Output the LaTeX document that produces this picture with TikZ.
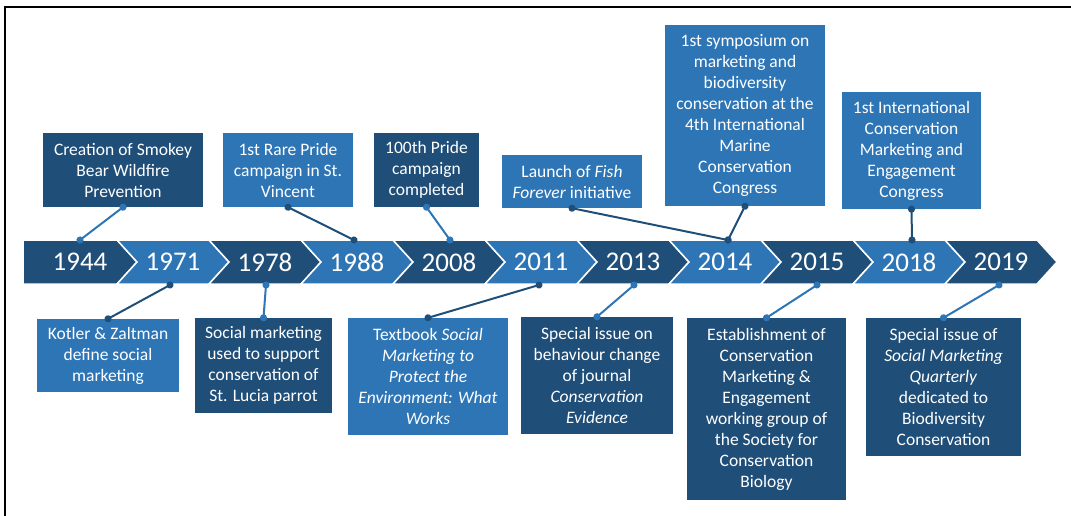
\documentclass[tikz,border=0pt]{standalone}
\usepackage{fontspec}
\setmainfont{Carlito}
\usepackage{tikz}
\usetikzlibrary{arrows.meta}
\usepackage{xcolor}
\definecolor{darkblue}{HTML}{1F4E79}
\definecolor{lightblue}{HTML}{2E75B6}

\begin{document}
\begin{tikzpicture}[
    x=1pt, y=-1pt,
    event/.style = {text=white, align=center, inner sep=2pt,
      font=\fontsize{17.5}{21}\selectfont},
    darkevent/.style  = {event, fill=darkblue},
    lightevent/.style = {event, fill=lightblue},
    year/.style = {text=white, font=\fontsize{27}{30}\selectfont},
    link/.style = {line width=2pt, shorten <=-3.5pt, shorten >=-3.5pt,
      {Circle[length=7pt]}-{Circle[length=7pt]}},
    darklink/.style  = {link, draw=darkblue},
    lightlink/.style = {link, draw=lightblue}
  ]
  \useasboundingbox (0,0) rectangle (1071,516);
  \draw[line width=2.2pt] (5,516) -- (5,7) -- (1071,7);

  % timeline band
  \fill[darkblue, draw=white, line width=1.5pt]
    (23,240) -- (117,240) -- (137,262) -- (117,284) -- (23,284) -- cycle;
  \node[year] (y1944) at (80,262) {1944};
  \foreach \yr [count=\i] in {1971,1978,1988,2008,2011,2013,2014,2015,2018,2019} {
    \pgfmathsetmacro\left{25+92*\i}
    \pgfmathsetmacro\right{25+92*(\i+1)}
    \pgfmathsetmacro\mid{\left+56}
    \ifodd\i \def\segcol{lightblue}\else \def\segcol{darkblue}\fi
    \fill[\segcol, draw=white, line width=1.5pt]
      (\left,240) -- (\right,240) -- (\right+20,262) -- (\right,284)
      -- (\left,284) -- (\left+20,262) -- cycle;
    \node[year] (y\yr) at (\mid,262) {\yr};
  }

  % points on the band
  \coordinate (t1944) at (80,240);
  \coordinate (t1988) at (354,240);
  \coordinate (t2008) at (450,240);
  \coordinate (t2014) at (728,240);
  \coordinate (t2018) at (912,240);
  \coordinate (b1971) at (170,285);
  \coordinate (b1978) at (266,285);
  \coordinate (b2011) at (539,285);
  \coordinate (b2013) at (634,285);
  \coordinate (b2015) at (817,285);
  \coordinate (b2019) at (999,285);

  % events above
  \node[darkevent, minimum width=160pt, minimum height=74pt] (smokey) at (123,170)
    {Creation of Smokey\\ Bear Wildfire\\ Prevention};
  \node[lightevent, minimum width=130pt, minimum height=74pt] (rarepride) at (288,170)
    {1st Rare Pride\\ campaign in St.\\ Vincent};
  \node[darkevent, minimum width=105pt, minimum height=74pt] (hundred) at (426.5,170)
    {100th Pride\\ campaign\\ completed};
  \node[lightevent, minimum width=140pt, minimum height=53pt] (fish) at (572,181.5)
    {Launch of \textit{Fish}\\ \textit{Forever} initiative};
  \node[lightevent, minimum width=160pt, minimum height=181pt] (symposium) at (745,115.5)
    {1st symposium on\\ marketing and\\ biodiversity\\ conservation at the\\
     4th International\\ Marine\\ Conservation\\ Congress};
  \node[lightevent, minimum width=139pt, minimum height=117pt] (congress) at (911.5,150.5)
    {1st International\\ Conservation\\ Marketing and\\ Engagement\\ Congress};

  % events below
  \node[lightevent, minimum width=142pt, minimum height=73pt] (kotler) at (108,355.5)
    {Kotler \& Zaltman\\ define social\\ marketing};
  \node[darkevent, minimum width=137pt, minimum height=95pt] (parrot) at (263.5,365.5)
    {Social marketing\\ used to support\\ conservation of\\ St. Lucia parrot};
  \node[lightevent, minimum width=160pt, minimum height=117pt] (textbook) at (428,376.5)
    {Textbook \textit{Social}\\ \textit{Marketing to}\\ \textit{Protect the}\\
     \textit{Environment: What}\\ \textit{Works}};
  \node[darkevent, minimum width=152pt, minimum height=117pt] (journal) at (597,375.5)
    {Special issue on\\ behaviour change\\ of journal\\ \textit{Conservation}\\
     \textit{Evidence}};
  \node[darkevent, minimum width=159pt, minimum height=182pt] (workgroup) at (766.5,409)
    {Establishment of\\ Conservation\\ Marketing \&\\ Engagement\\
     working group of\\ the Society for\\ Conservation\\ Biology};
  \node[darkevent, minimum width=155pt, minimum height=138pt] (smq) at (943.5,387)
    {Special issue of\\ \textit{Social Marketing}\\ \textit{Quarterly}\\
     dedicated to\\ Biodiversity\\ Conservation};

  % connectors
  \draw[lightlink] (smokey.south) -- (t1944);
  \draw[darklink]  (rarepride.south) -- (t1988);
  \draw[lightlink] (hundred.south) -- (t2008);
  \draw[darklink]  (fish.south) -- (t2014);
  \draw[darklink]  (symposium.south) -- (t2014);
  \draw[darklink]  (congress.south) -- (t2018);
  \draw[darklink]  (kotler.north) -- (b1971);
  \draw[lightlink] (parrot.north) -- (b1978);
  \draw[darklink]  (textbook.north) -- (b2011);
  \draw[lightlink] (journal.north) -- (b2013);
  \draw[lightlink] (workgroup.north) -- (b2015);
  \draw[lightlink] (smq.north) -- (b2019);
\end{tikzpicture}
\end{document}
